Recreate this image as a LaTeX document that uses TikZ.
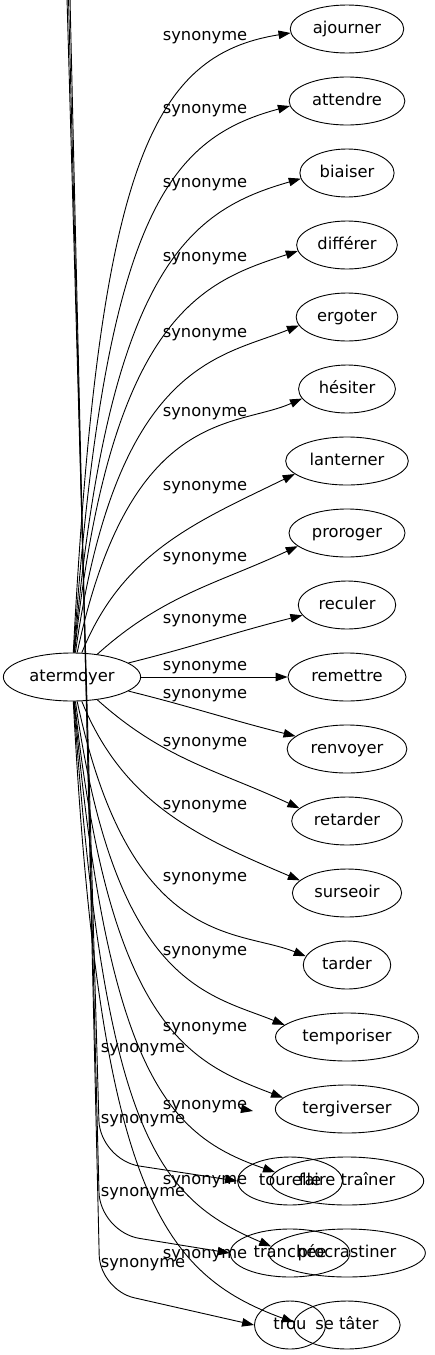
\documentclass[tikz,border=0pt]{standalone}
\usepackage{fontspec}
\setmainfont{DejaVu Sans}
\usetikzlibrary{arrows.meta}
\usetikzlibrary{shapes.geometric}

\begin{document}
\begin{tikzpicture}[x=1pt,y=1pt]
        \tikzset{mot/.style = {draw, ellipse, line width=0.9pt, minimum height=48pt, minimum width=71pt, inner xsep=6pt, inner ysep=0pt, text height=12pt, text depth=3.5pt, font=\fontsize{16.3pt}{19pt}\selectfont}}
        \tikzset{lbl/.style = {inner sep=0pt, text height=12pt, text depth=3.5pt, font=\fontsize{16.3pt}{19pt}\selectfont}}
        \tikzset{syn/.style = {-{Triangle[length=12pt,width=8.5pt]}, line width=0.9pt}}
        \tikzset{loin/.style = {out looseness=1.9, in looseness=0.55}}

        \useasboundingbox (0,0) rectangle (435,-1355);
        \clip (0,0) rectangle (435,-1355);

        % centre
        \node[mot] (atermoyer) at (72,-677) {atermoyer};

        % synonymes
        \node[mot] (ajourner) at (347,-29) {ajourner};
        \node[mot] (attendre) at (347,-101) {attendre};
        \node[mot] (biaiser) at (347,-173) {biaiser};
        \node[mot] (differer) at (347,-245) {différer};
        \node[mot] (ergoter) at (347,-317) {ergoter};
        \node[mot] (hesiter) at (347,-389) {hésiter};
        \node[mot] (lanterner) at (347,-461) {lanterner};
        \node[mot] (proroger) at (347,-533) {proroger};
        \node[mot] (reculer) at (347,-605) {reculer};
        \node[mot] (remettre) at (347,-677) {remettre};
        \node[mot] (renvoyer) at (347,-749) {renvoyer};
        \node[mot] (retarder) at (347,-821) {retarder};
        \node[mot] (surseoir) at (347,-893) {surseoir};
        \node[mot] (tarder) at (347,-965) {tarder};
        \node[mot] (temporiser) at (347,-1037) {temporiser};
        \node[mot] (tergiverser) at (347,-1109) {tergiverser};
        \node[mot] (trainer) at (347,-1181) {faire traîner};
        \node[mot] (procrastiner) at (347,-1253) {procrastiner};
        \node[mot] (tater) at (347,-1325) {se tâter};

        % second graph on top
        \node[mot] (tourelle) at (290,-1181) {tourelle};
        \node[mot] (tranchee) at (290,-1253) {tranchée};
        \node[mot] (trou) at (290,-1325) {trou};

        % edges up
        \draw[syn,loin] (atermoyer) to[out=87,in=-171] (ajourner.184);
        \draw[syn,loin] (atermoyer) to[out=86,in=-165] (attendre.185);
        \draw[syn,loin] (atermoyer) to[out=85,in=-164] (biaiser.187);
        \draw[syn,loin] (atermoyer) to[out=84,in=-162] (differer.187);
        \draw[syn,loin] (atermoyer) to[out=82,in=-158] (ergoter.190);
        \draw[syn,loin] (atermoyer) to[out=78,in=-156] (hesiter.192);
        \draw[syn] (atermoyer) to[out=68,in=-154] (lanterner.194);
        \draw[syn] (atermoyer) to[out=42,in=-155] (proroger.195);
        \draw[syn] (atermoyer) to[out=14,in=-166] (reculer.193);
        \draw[syn] (atermoyer) -- (remettre);

        % edges down
        \draw[syn] (atermoyer) to[out=-14,in=166] (renvoyer.166);
        \draw[syn] (atermoyer) to[out=-42,in=155] (retarder.165);
        \draw[syn] (atermoyer) to[out=-68,in=157] (surseoir.165);
        \draw[syn,loin] (atermoyer) to[out=-78,in=158] (tarder.168);
        \draw[syn,loin] (atermoyer) to[out=-82,in=158] (temporiser.169);
        \draw[syn,loin] (atermoyer) to[out=-84,in=159] (tergiverser.170);
        \draw[syn,loin] (atermoyer) to[out=-85,in=161] (trainer.173);
        \draw[syn,loin] (atermoyer) to[out=-86,in=157] (procrastiner.175);
        \draw[syn,loin] (atermoyer) to[out=-87,in=160] (tater.177);

        % edges of the second graph, source above the page
        \coordinate (haut1) at (67,2);
        \coordinate (haut2) at (68.5,2);
        \coordinate (haut3) at (70,2);
        \coordinate (coude1) at (100,-1160);
        \coordinate (coude2) at (100,-1232);
        \coordinate (coude3) at (100,-1290);
        \coordinate (vide0) at (240,-1108.5);
        \coordinate (vide) at (253,-1111);
        \draw[syn,rounded corners=40pt] (haut1) -- (coude1) -- (tourelle.west);
        \draw[syn,rounded corners=40pt] (haut2) -- (coude2) -- (tranchee.west);
        \draw[syn,rounded corners=35pt] (haut3) -- (coude3) -- (trou.west);
        \draw[syn] (vide0) -- (vide);

        % labels
        \node[lbl] (s1) at (205,-36) {synonyme};
        \node[lbl] (s2) at (205,-109) {synonyme};
        \node[lbl] (s3) at (205,-183) {synonyme};
        \node[lbl] (s4) at (205,-257) {synonyme};
        \node[lbl] (s5) at (205,-333) {synonyme};
        \node[lbl] (s6) at (205,-412) {synonyme};
        \node[lbl] (s7) at (205,-486) {synonyme};
        \node[lbl] (s8) at (205,-557) {synonyme};
        \node[lbl] (s9) at (205,-619) {synonyme};
        \node[lbl] (s10) at (205,-666) {synonyme};
        \node[lbl] (s11) at (205,-694) {synonyme};
        \node[lbl] (s12) at (205,-742) {synonyme};
        \node[lbl] (s13) at (205,-805) {synonyme};
        \node[lbl] (s14) at (205,-877) {synonyme};
        \node[lbl] (s15) at (205,-951) {synonyme};
        \node[lbl] (s16) at (205,-1027) {synonyme};
        \node[lbl] (s17) at (205,-1105) {synonyme};
        \node[lbl] (s18) at (205,-1180) {synonyme};
        \node[lbl] (s19) at (205,-1254) {synonyme};
        \node[lbl] (t1) at (143,-1048) {synonyme};
        \node[lbl] (t2) at (143,-1119) {synonyme};
        \node[lbl] (t3) at (143,-1192) {synonyme};
        \node[lbl] (t4) at (143,-1263) {synonyme};

\end{tikzpicture}
\end{document}
